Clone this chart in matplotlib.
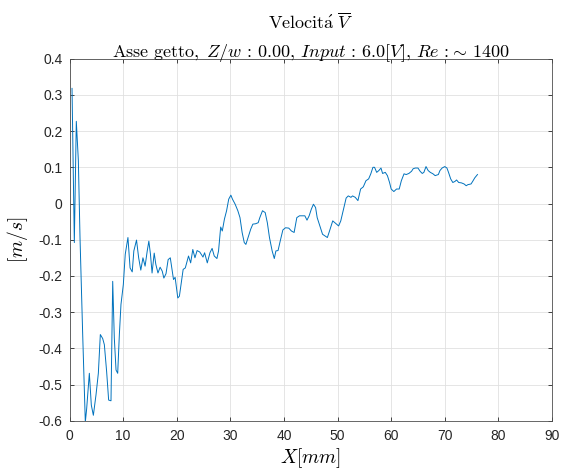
import matplotlib
matplotlib.use("Agg")
import matplotlib.pyplot as plt
from matplotlib.ticker import FuncFormatter

# Data
x_mm = [0.47, 0.9, 1.27, 1.65, 1.96, 2.46, 2.95, 3.2, 3.7, 4.07, 4.45, 4.94, 5.38, 5.75,
        6.19, 6.5, 6.93, 7.3, 7.74, 8.06, 8.36, 8.68, 8.99, 9.3, 9.6, 10.04, 10.4, 10.9,
        11.3, 11.7, 12.0, 12.5, 12.9, 13.3, 13.7, 14.1, 14.5, 14.8, 15.1, 15.4, 15.8,
        16.1, 16.5, 16.9, 17.3, 17.6, 18.0, 18.4, 18.8, 19.4, 19.7, 20.2, 20.5, 21.2,
        21.6, 22.2, 22.6, 23.0, 23.4, 23.8, 24.3, 24.9, 25.2, 25.7, 26.2, 26.6, 27.0,
        27.5, 27.8, 28.2, 28.5, 28.9, 29.3, 29.7, 30.1, 30.4, 30.9, 31.4, 31.8, 32.2,
        32.6, 32.9, 33.4, 33.8, 34.2, 34.7, 35.2, 35.5, 36.0, 36.5, 36.9, 37.3, 37.8,
        38.2, 38.5, 38.9, 39.3, 39.8, 40.3, 40.9, 41.4, 41.9, 42.4, 42.9, 43.5, 43.9,
        44.3, 44.7, 45.1, 45.5, 45.9, 46.2, 46.7, 47.2, 47.7, 48.1, 48.5, 49.1, 49.5,
        50.2, 50.6, 51.1, 51.6, 52.0, 52.5, 52.8, 53.3, 53.8, 54.3, 54.8, 55.3, 55.8,
        56.2, 56.6, 56.9, 57.3, 57.7, 58.1, 58.4, 58.9, 59.3, 59.7, 60.0, 60.5, 61.0,
        61.5, 61.9, 62.4, 62.8, 63.3, 63.8, 64.1, 64.5, 65.0, 65.4, 65.8, 66.1, 66.5,
        66.9, 67.3, 67.8, 68.2, 68.8, 69.1, 69.5, 70.0, 70.4, 70.7, 71.1, 71.5, 71.9,
        72.2, 72.6, 73.1, 73.6, 74.0, 74.3, 74.9, 75.2, 75.6, 76.1]
v_ms = [0.318, -0.108, 0.227, 0.119, -0.094, -0.362, -0.604, -0.567, -0.469, -0.557,
        -0.585, -0.529, -0.469, -0.362, -0.373, -0.39, -0.465, -0.543, -0.545, -0.215,
        -0.372, -0.46, -0.469, -0.362, -0.279, -0.224, -0.14, -0.094, -0.178, -0.189,
        -0.131, -0.101, -0.15, -0.184, -0.15, -0.173, -0.131, -0.104, -0.14, -0.192,
        -0.137, -0.168, -0.192, -0.176, -0.187, -0.206, -0.194, -0.155, -0.15, -0.21,
        -0.204, -0.261, -0.256, -0.182, -0.178, -0.145, -0.164, -0.127, -0.15, -0.13,
        -0.134, -0.148, -0.136, -0.164, -0.136, -0.124, -0.145, -0.152, -0.131, -0.065,
        -0.076, -0.043, -0.02, 0.012, 0.023, 0.012, -0.002, -0.02, -0.039, -0.08,
        -0.108, -0.113, -0.09, -0.071, -0.057, -0.056, -0.053, -0.039, -0.02, -0.025,
        -0.053, -0.094, -0.131, -0.152, -0.131, -0.13, -0.104, -0.073, -0.067, -0.068,
        -0.076, -0.08, -0.039, -0.034, -0.034, -0.034, -0.046, -0.034, -0.016, -0.002,
        -0.011, -0.039, -0.062, -0.085, -0.09, -0.094, -0.076, -0.048, -0.053, -0.062,
        -0.048, -0.016, 0.015, 0.021, 0.017, 0.021, 0.017, 0.008, 0.04, 0.046, 0.063,
        0.068, 0.082, 0.1, 0.1, 0.086, 0.091, 0.098, 0.083, 0.086, 0.077, 0.058, 0.04,
        0.033, 0.04, 0.04, 0.063, 0.082, 0.08, 0.083, 0.089, 0.096, 0.098, 0.098, 0.089,
        0.083, 0.086, 0.102, 0.091, 0.086, 0.082, 0.077, 0.08, 0.091, 0.098, 0.102,
        0.098, 0.086, 0.068, 0.058, 0.061, 0.065, 0.058, 0.057, 0.054, 0.049, 0.052,
        0.054, 0.061, 0.071, 0.08]

x_ticks = [0, 10, 20, 30, 40, 50, 60, 70, 80, 90]
y_ticks = [-0.6, -0.5, -0.4, -0.3, -0.2, -0.1, 0, 0.1, 0.2, 0.3, 0.4]

plt.rcParams['mathtext.fontset'] = 'cm'
plt.rcParams['axes.unicode_minus'] = False

fig = plt.figure(figsize=(5.63, 4.70), dpi=100)
ax = fig.add_axes([69.5 / 563, (470 - 420.7) / 470, (552 - 69.5) / 563, (420.7 - 58.7) / 470])

ax.plot(x_mm, v_ms, color='#0072BD', linewidth=0.7)

ax.set_xlim(0, 90)
ax.set_ylim(-0.6, 0.4)
ax.set_xticks(x_ticks)
ax.set_yticks(y_ticks)
ax.yaxis.set_major_formatter(FuncFormatter(lambda v, p: ('%g' % round(v, 2))))
ax.grid(True, color='#e0e0e0', linewidth=0.6)
ax.set_axisbelow(True)
ax.tick_params(direction='in', length=3, width=0.6, colors='#262626', labelsize=10,
               top=True, right=True)
ax.tick_params(axis='x', pad=6)
ax.tick_params(axis='y', pad=5)
for lab in ax.get_xticklabels() + ax.get_yticklabels():
    lab.set_fontfamily('Liberation Sans')
for s in ax.spines.values():
    s.set_color('#4d4d4d')
    s.set_linewidth(0.6)

ax.set_xlabel(r'$X[mm]$', fontsize=14, labelpad=2)
ax.set_ylabel(r'$[m/s]$', fontsize=14, labelpad=6)

title_l1 = r'$\mathrm{Velocit\acute{a}}\ \overline{V}$'
title_l2 = (r'$\mathrm{Asse\ getto},\ Z/w\,:\,0.00,\,Input\,:\,6.0[V],\,Re\,:\!\sim\,1400$')
ax.text(0.5, 1.0 + 29.5 / 362.0, title_l1, transform=ax.transAxes, ha='center',
        va='baseline', fontsize=13, color='#000000')
ax.text(0.5, 1.0 + 1.8 / 362.0, title_l2, transform=ax.transAxes, ha='center',
        va='baseline', fontsize=13, color='#000000')

fig.savefig('out.png', dpi=100)
